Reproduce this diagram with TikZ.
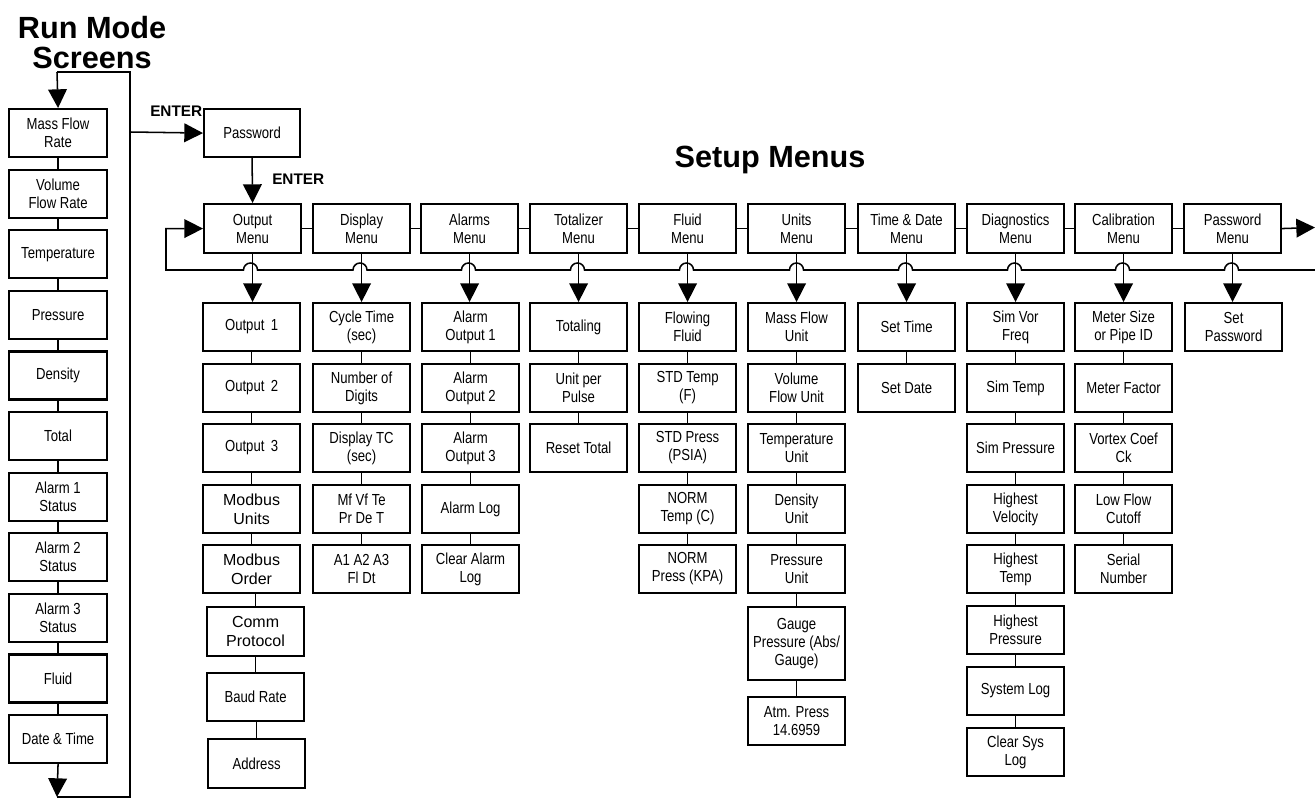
\documentclass[tikz,border=0pt]{standalone}
\usepackage{fontspec}
\setmainfont{Liberation Sans}[FakeStretch=0.82]
\newfontfamily\plainsans{Liberation Sans}
\usetikzlibrary{arrows.meta}
\newcommand\boxfont{\fontsize{12}{13.5}\selectfont}
\newcommand\modfont{\plainsans\fontsize{12}{14.5}\selectfont}
\begin{document}
\begin{tikzpicture}[x=0.75pt,y=-0.75pt,
  box/.style={draw, line width=1.6pt, minimum width=72.75pt, minimum height=36pt,
    inner sep=0pt, align=center, font=\boxfont, anchor=north west},
  lbox/.style={box, minimum width=73.5pt},
  mbox/.style={box, minimum height=36.75pt},
  modbox/.style={box, font=\modfont},
  conn/.style={line width=1.15pt},
  arr/.style={line width=1.15pt, -{Triangle[length=14pt,width=14pt]}},
  lbl/.style={font=\plainsans\bfseries\fontsize{11.5}{13}\selectfont, inner sep=0pt, anchor=base west}]
\useasboundingbox (0,0) rectangle (1315,799);

% titles
\node[font=\plainsans\bfseries\fontsize{23}{22.5}\selectfont, align=center, inner sep=0pt] (runtitle) at (92,43) {Run Mode\\Screens};
\node[font=\plainsans\bfseries\fontsize{23}{24}\selectfont, inner sep=0pt, anchor=base] (setuptitle) at (770,167) {Setup Menus};

% run mode column
\node[lbox] (r1) at (8,108) {Mass Flow\\Rate};
\node[lbox] (r2) at (8,168.6) {Volume\\Flow Rate};
\node[lbox] (r3) at (8,229.2) {Temperature};
\node[lbox] (r4) at (8,289.8) {Pressure};
\node[lbox] (r5) at (8,350.4) {Density};
\node[lbox] (r6) at (8,411) {Total};
\node[lbox] (r7) at (8,471.6) {Alarm 1\\Status};
\node[lbox] (r8) at (8,532.2) {Alarm 2\\Status};
\node[lbox] (r9) at (8,592.8) {Alarm 3\\Status};
\node[lbox] (r10) at (8,653.4) {Fluid};
\node[lbox] (r11) at (8,714) {Date \& Time};

\foreach \a/\b in {r1/r2,r2/r3,r3/r4,r4/r5,r5/r6,r6/r7,r7/r8,r8/r9,r9/r10,r10/r11}
  \draw[conn] (\a.south) -- (\b.north);

\coordinate (lb) at (57,797);
\coordinate (lbr) at (130,797);
\coordinate (ltr) at (130,72);
\coordinate (lt) at (57,72);
\coordinate (lent) at (130,132);
\draw[arr] (r11.south) -- (lb);
\draw[conn] (lb) -- (lbr) -- (ltr) -- (lt);
\draw[arr] (lt) -- (r1.north);

% password
\node[lbox, minimum width=72pt] (pw) at (203,108) {Password};
\draw[arr] (lent) -- (pw.west);
\node[lbl] (enter1) at (150,117) {ENTER};
\node[lbl] (enter2) at (272,185) {ENTER};

% menu row
\node[mbox] (m0) at (203,203) {Output\\Menu};
\node[mbox] (m1) at (312,203) {Display\\Menu};
\node[mbox] (m2) at (420,203) {Alarms\\Menu};
\node[mbox] (m3) at (529,203) {Totalizer\\Menu};
\node[mbox] (m4) at (638,203) {Fluid\\Menu};
\node[mbox] (m5) at (747,203) {Units\\Menu};
\node[mbox] (m6) at (857,203) {Time \& Date\\Menu};
\node[mbox] (m7) at (966,203) {Diagnostics\\Menu};
\node[mbox] (m8) at (1074,203) {Calibration\\Menu};
\node[mbox] (m9) at (1183,203) {Password\\Menu};
\draw[arr] (pw.south) -- (m0.north);
\foreach \a/\b in {m0/m1,m1/m2,m2/m3,m3/m4,m4/m5,m5/m6,m6/m7,m7/m8,m8/m9}
  \draw[conn] (\a.east) -- (\b.west);
\coordinate (rend) at (1315,227.5);
\draw[arr] (m9.east) -- (rend);

% feedback line with hops
\coordinate (fbstart) at (1315,270);
\coordinate (fbcorner) at (166,270);
\draw[arr] (fbstart)
  \foreach \c in {1231.5,1122.5,1014.5,905.5,796.5,686.5,577.5,468.5,360,250.5} {
    -- (\c+7,270) arc[start angle=0,end angle=180,radius=5.25pt]
  } -- (fbcorner) |- (m0.west);

% output column
\node[box] (o1) at (202,302) {Output\, 1};
\node[box] (o2) at (202,363) {Output\, 2};
\node[box] (o3) at (202,423) {Output\, 3};
\node[modbox] (o4) at (202,484) {Modbus\\Units};
\node[modbox] (o5) at (202,544) {Modbus\\Order};
\node[modbox, minimum height=36.75pt] (o6) at (206,606) {Comm\\Protocol};
\node[box] (o7) at (206,672) {Baud Rate};
\node[box, minimum height=36.75pt] (o8) at (207,738) {Address};

% display column
\node[box] (d1) at (312,302) {Cycle Time\\(sec)};
\node[box] (d2) at (312,363) {Number of\\Digits};
\node[box] (d3) at (312,423) {Display TC\\(sec)};
\node[box] (d4) at (312,484) {Mf Vf Te\\Pr De T};
\node[box] (d5) at (312,544) {A1 A2 A3\\Fl Dt};

% alarms column
\node[box] (a1) at (421,302) {Alarm\\Output 1};
\node[box] (a2) at (421,363) {Alarm\\Output 2};
\node[box] (a3) at (421,423) {Alarm\\Output 3};
\node[box] (a4) at (421,484) {Alarm Log};
\node[box] (a5) at (421,544) {Clear Alarm\\Log};

% totalizer column
\node[box] (t1) at (529,302) {Totaling};
\node[box] (t2) at (529,363) {Unit per\\Pulse};
\node[box] (t3) at (529,423) {Reset Total};

% fluid column
\node[box] (f1) at (638,302) {Flowing\\Fluid};
\node[box] (f2) at (638,363) {STD Temp\\(F)};
\node[box] (f3) at (638,423) {STD Press\\(PSIA)};
\node[box] (f4) at (638,484) {NORM\\Temp (C)};
\node[box] (f5) at (638,544) {NORM\\Press (KPA)};

% units column
\node[box] (u1) at (747,302) {Mass Flow\\Unit};
\node[box] (u2) at (747,363) {Volume\\Flow Unit};
\node[box] (u3) at (747,423) {Temperature\\Unit};
\node[box] (u4) at (747,484) {Density\\Unit};
\node[box] (u5) at (747,544) {Pressure\\Unit};
\node[box, minimum height=54.75pt] (u6) at (747,606) {Gauge\\Pressure (Abs/\\Gauge)};
\node[box] (u7) at (747,696) {Atm. Press\\14.6959};

% time & date column
\node[box] (td1) at (857,302) {Set Time};
\node[box] (td2) at (857,363) {Set Date};

% diagnostics column
\node[box] (g1) at (966,302) {Sim Vor\\Freq};
\node[box] (g2) at (966,363) {Sim Temp};
\node[box] (g3) at (966,423) {Sim Pressure};
\node[box] (g4) at (966,484) {Highest\\Velocity};
\node[box] (g5) at (966,544) {Highest\\Temp};
\node[box] (g6) at (966,605) {Highest\\Pressure};
\node[box] (g7) at (966,666) {System Log};
\node[box] (g8) at (966,727) {Clear Sys\\Log};

% calibration column
\node[box] (c1) at (1074,302) {Meter Size\\or Pipe ID};
\node[box] (c2) at (1074,363) {Meter Factor};
\node[box] (c3) at (1074,423) {Vortex Coef\\Ck};
\node[box] (c4) at (1074,484) {Low Flow\\Cutoff};
\node[box] (c5) at (1074,544) {Serial\\Number};

% password column
\node[box] (p1) at (1184,302) {Set\\Password};

% menu -> first child arrows
\foreach \m/\c in {m0/o1,m1/d1,m2/a1,m3/t1,m4/f1,m5/u1,m6/td1,m7/g1,m8/c1,m9/p1}
  \draw[arr] (\m.south) -- (\m.south |- \c.north);

% chains
\foreach \a/\b in {o1/o2,o2/o3,o3/o4,o4/o5,o5/o6,o6/o7,o7/o8,
  d1/d2,d2/d3,d3/d4,d4/d5,
  a1/a2,a2/a3,a3/a4,a4/a5,
  t1/t2,t2/t3,
  f1/f2,f2/f3,f3/f4,f4/f5,
  u1/u2,u2/u3,u3/u4,u4/u5,u5/u6,u6/u7,
  td1/td2,
  g1/g2,g2/g3,g3/g4,g4/g5,g5/g6,g6/g7,g7/g8,
  c1/c2,c2/c3,c3/c4,c4/c5}
  \draw[conn] (\b.north |- \a.south) -- (\b.north);
\end{tikzpicture}
\end{document}
